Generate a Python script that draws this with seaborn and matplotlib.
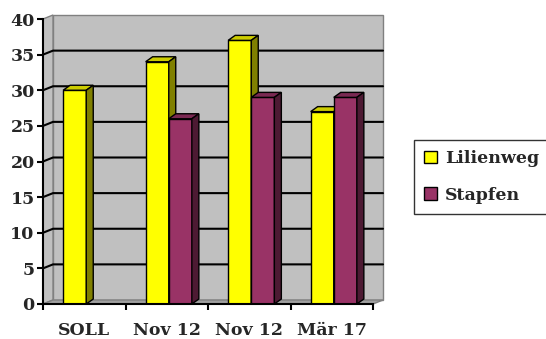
import numpy as np
import pandas as pd
import matplotlib
matplotlib.use("Agg")
import matplotlib.pyplot as plt
from matplotlib.patches import Polygon, Patch
from matplotlib.lines import Line2D
from matplotlib.transforms import IdentityTransform
import seaborn as sns

sns.set_style("white")
plt.rcParams["font.family"] = ["DejaVu Serif"]
plt.rcParams["font.weight"] = "bold"

# data
categories = ["SOLL", "Nov 12", "Nov 12", "Mär 17"]
series = ["Lilienweg", "Stapfen"]
lilienweg = [30, 34, 37, 27]
stapfen = [np.nan, 26, 29, 29]
yticks = [0, 5, 10, 15, 20, 25, 30, 35, 40]

front = {"Lilienweg": "#ffff00", "Stapfen": "#993366"}
top = {"Lilienweg": "#cccc00", "Stapfen": "#7a2952"}
side = {"Lilienweg": "#808000", "Stapfen": "#4d1a33"}

df = pd.DataFrame({
    "pos": list(range(len(categories))) * 2,
    "serie": [series[0]] * len(categories) + [series[1]] * len(categories),
    "wert": lilienweg + stapfen,
})

W, H = 546, 339
fig = plt.figure(figsize=(W / 100, H / 100), dpi=100)
ax = fig.add_axes([43 / W, 1 - 304 / H, 330 / W, 285 / H])
ax.patch.set_visible(False)

sns.barplot(data=df, x="pos", y="wert", hue="serie", hue_order=series,
            palette=front, width=0.56, edgecolor="black", linewidth=1.0,
            saturation=1, legend=False, ax=ax)
ax.set_xlim(-0.5, len(categories) - 0.5)
ax.set_ylim(0, 40)

# wall offset (pixels) and bar depth (pixels)
WX, WY = 10, 4
BX, BY = 7, 5

def px(x, y):
    return ax.transData.transform((x, y))

def poly(pts, fc, ec, z, lw=1.0):
    p = Polygon(pts, closed=True, facecolor=fc, edgecolor=ec, linewidth=lw,
                transform=IdentityTransform(), clip_on=False, zorder=z)
    ax.add_patch(p)

def line(pts, c, z, lw=1.5):
    pts = np.array(pts)
    ax.add_line(Line2D(pts[:, 0], pts[:, 1], color=c, linewidth=lw,
                       transform=IdentityTransform(), clip_on=False, zorder=z))

x0, x1 = -0.5, len(categories) - 0.5
off = np.array([WX, WY])
bl, tl, tr, br = px(x0, 0), px(x0, 40), px(x1, 40), px(x1, 0)
# back wall, side wall, floor
poly([bl + off, tl + off, tr + off, br + off], "#c0c0c0", "#808080", 0.1)
poly([bl, tl, tl + off, bl + off], "#c0c0c0", "#808080", 0.1)
poly([bl, br, br + off, bl + off], "#a0a0a0", "#808080", 0.2)
for v in yticks[1:-1]:
    line([px(x0, v), px(x0, v) + off, px(x1, v) + off], "black", 0.3)

# 3D faces on the bars, shifted a little to the right like the original
shift = 2 / (px(1, 0)[0] - px(0, 0)[0])
for patch in ax.patches:
    if not hasattr(patch, "get_height") or not np.isfinite(patch.get_height()):
        continue
    if patch.get_height() <= 0:
        continue
    fc = matplotlib.colors.to_hex(patch.get_facecolor())
    name = "Lilienweg" if fc == front["Lilienweg"] else "Stapfen"
    z = 2 if name == "Lilienweg" else 3
    patch.set_zorder(z)
    patch.set_x(patch.get_x() + shift)
    bx0, by0 = patch.get_x(), patch.get_y()
    bx1, by1 = bx0 + patch.get_width(), by0 + patch.get_height()
    d = np.array([BX, BY])
    a, b = px(bx0, by1), px(bx1, by1)
    c = px(bx1, by0)
    poly([a, b, b + d, a + d], top[name], "black", z)
    poly([c, b, b + d, c + d], side[name], "black", z)

for s in ["top", "right"]:
    ax.spines[s].set_visible(False)
for s in ["left", "bottom"]:
    ax.spines[s].set_linewidth(1.5)
    ax.spines[s].set_color("black")
    ax.spines[s].set_zorder(5)

ax.set_yticks(yticks)
ax.set_xticks(range(len(categories)))
ax.set_xticklabels(categories)
ax.set_xticks(np.arange(-0.5, len(categories)), minor=True)
ax.tick_params(axis="y", direction="out", length=4, width=1.5, pad=2,
               labelsize=12.5, left=True, color="black")
ax.tick_params(axis="x", which="major", length=0, pad=13, labelsize=12.5)
ax.tick_params(axis="x", which="minor", direction="out", length=4, width=1.5,
               bottom=True, color="black")
ax.set_xlabel("")
ax.set_ylabel("")

handles = [Patch(facecolor=front[s], edgecolor="black", linewidth=1.0, label=s)
           for s in series]
leg = fig.legend(handles=handles, loc="upper left",
                 bbox_to_anchor=(414 / W, 1 - 140 / H), borderaxespad=0,
                 frameon=True, fancybox=False, handlelength=0.7,
                 handleheight=0.7, handletextpad=0.5, borderpad=0.6,
                 labelspacing=1.1, prop={"size": 12.5, "weight": "bold"})
leg.get_frame().set_edgecolor("black")
leg.get_frame().set_linewidth(1.0)

fig.savefig("out.png", dpi=100)
